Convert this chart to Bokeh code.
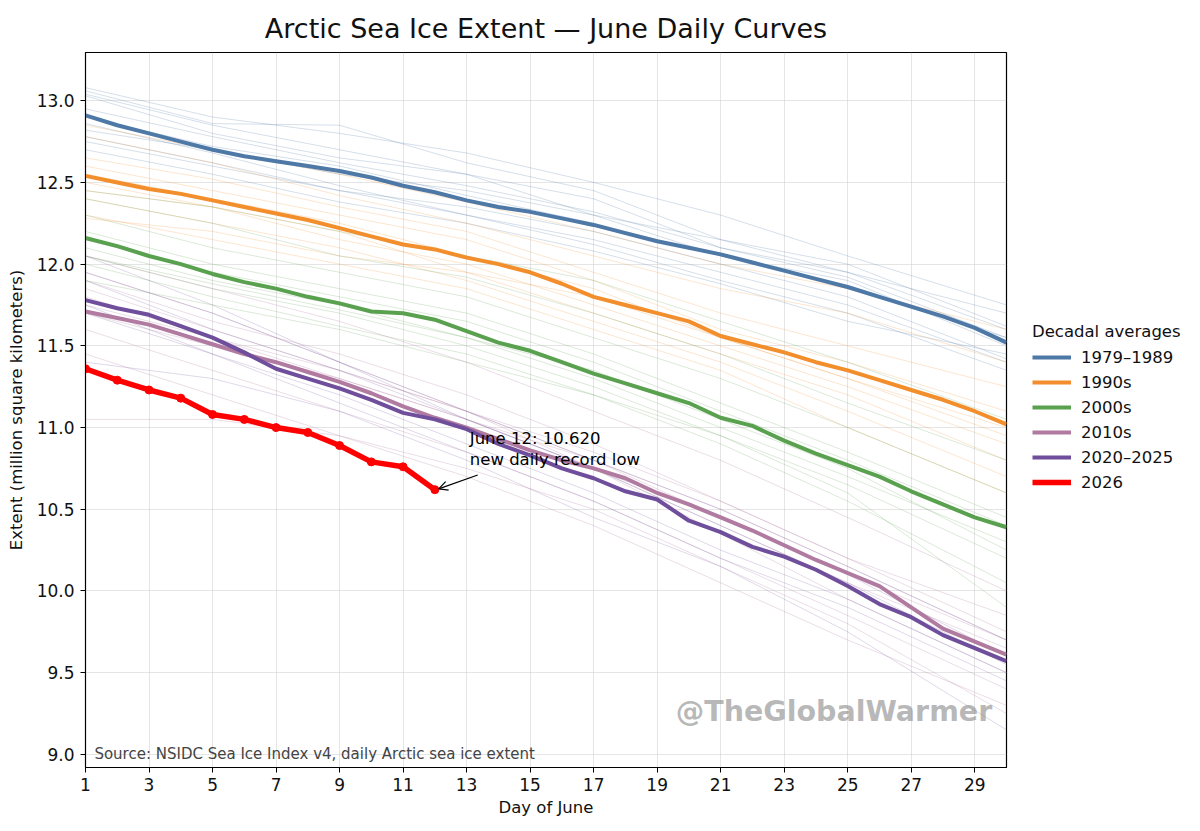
from bokeh.plotting import figure
from bokeh.layouts import row
from bokeh.models import (Range1d, FixedTicker, PrintfTickFormatter, Legend, LegendItem,
                          Label, Arrow, OpenHead)
from bokeh.embed import file_html
from bokeh.resources import INLINE

FONT = "DejaVu Sans"

days = list(range(1, 31))
sample_days = [1, 5, 9, 13, 17, 21, 25, 30]

# ---- individual years (sparse readings, faint lines) ----
years_1980s = {
    1979: [13.08, 12.90, 12.80, 12.68, 12.50, 12.30, 12.05, 11.75],
    1980: [13.06, 12.86, 12.85, 12.62, 12.45, 12.15, 12.00, 11.62],
    1981: [13.04, 12.85, 12.70, 12.55, 12.40, 12.10, 11.95, 11.70],
    1982: [13.03, 12.80, 12.65, 12.55, 12.30, 12.15, 11.95, 11.60],
    1983: [12.90, 12.72, 12.60, 12.42, 12.25, 12.05, 11.90, 11.50],
    1984: [12.78, 12.62, 12.45, 12.30, 12.15, 11.95, 11.75, 11.40],
    1985: [12.82, 12.70, 12.55, 12.45, 12.30, 12.05, 11.85, 11.55],
    1986: [12.75, 12.60, 12.45, 12.35, 12.20, 12.00, 11.80, 11.42],
    1987: [12.86, 12.68, 12.48, 12.30, 12.12, 11.90, 11.70, 11.35],
    1988: [12.95, 12.78, 12.62, 12.48, 12.32, 12.10, 11.92, 11.55],
    1989: [12.70, 12.55, 12.38, 12.25, 12.08, 11.88, 11.65, 11.45],
}
years_1990s = {
    1990: [12.85, 12.70, 12.55, 12.38, 12.20, 12.00, 11.85, 11.60],
    1991: [12.78, 12.62, 12.42, 12.25, 12.05, 11.85, 11.70, 11.40],
    1992: [12.65, 12.52, 12.35, 12.20, 11.95, 11.70, 11.50, 11.25],
    1993: [12.60, 12.45, 12.30, 12.15, 11.90, 11.60, 11.40, 11.10],
    1994: [12.55, 12.40, 12.25, 12.05, 11.85, 11.55, 11.30, 11.00],
    1995: [12.50, 12.35, 12.15, 12.00, 11.75, 11.50, 11.25, 10.90],
    1996: [12.45, 12.35, 12.20, 11.95, 11.70, 11.45, 11.20, 10.80],
    1997: [12.40, 12.25, 12.10, 11.90, 11.65, 11.40, 11.10, 10.70],
    1998: [12.30, 12.15, 12.00, 11.85, 11.60, 11.35, 11.00, 10.60],
    1999: [12.28, 12.20, 12.05, 11.95, 11.80, 11.55, 11.30, 10.95],
}
years_2000s = {
    2000: [12.45, 12.35, 12.20, 12.05, 11.90, 11.65, 11.40, 11.05],
    2001: [12.40, 12.25, 12.05, 11.92, 11.70, 11.45, 11.15, 10.80],
    2002: [12.30, 12.10, 11.95, 11.80, 11.55, 11.30, 11.00, 10.60],
    2003: [12.20, 12.00, 11.85, 11.70, 11.45, 11.15, 10.85, 10.45],
    2004: [12.15, 11.95, 11.80, 11.65, 11.40, 11.10, 10.80, 10.40],
    2005: [12.10, 11.90, 11.75, 11.55, 11.30, 11.00, 10.70, 10.30],
    2006: [12.05, 11.85, 11.70, 11.50, 11.25, 10.95, 10.65, 10.20],
    2007: [12.00, 11.80, 11.62, 11.45, 11.20, 10.90, 10.55, 10.05],
    2008: [12.05, 11.88, 11.72, 11.55, 11.35, 11.05, 10.75, 10.25],
    2009: [11.90, 11.75, 11.60, 11.40, 11.20, 10.95, 10.60, 9.90],
}
years_2010s = {
    2010: [11.60, 11.35, 11.10, 10.85, 10.55, 10.20, 9.85, 9.40],
    2011: [11.85, 11.60, 11.35, 11.10, 10.80, 10.50, 10.15, 9.70],
    2012: [11.95, 11.70, 11.40, 11.10, 10.75, 10.35, 9.95, 9.50],
    2013: [12.05, 11.85, 11.65, 11.40, 11.10, 10.80, 10.45, 10.00],
    2014: [11.75, 11.55, 11.35, 11.10, 10.85, 10.55, 10.20, 9.85],
    2015: [11.70, 11.50, 11.30, 11.05, 10.80, 10.45, 10.10, 9.70],
    2016: [11.45, 11.20, 10.95, 10.70, 10.40, 10.05, 9.70, 9.30],
    2017: [11.80, 11.55, 11.30, 11.05, 10.75, 10.40, 10.05, 9.65],
    2018: [11.90, 11.65, 11.45, 11.20, 10.90, 10.55, 10.20, 9.75],
    2019: [11.05, 11.05, 10.95, 10.75, 10.50, 10.15, 9.80, 9.25],
}
years_2020s = {
    2020: [11.90, 11.60, 11.35, 11.05, 10.75, 10.45, 10.10, 9.60],
    2021: [12.05, 11.75, 11.40, 11.05, 10.75, 10.40, 10.05, 9.55],
    2022: [11.95, 11.70, 11.40, 11.10, 10.80, 10.50, 10.15, 9.70],
    2023: [11.40, 11.30, 11.10, 10.80, 10.45, 10.15, 9.75, 9.15],
    2024: [11.70, 11.45, 11.15, 10.85, 10.55, 10.20, 9.90, 9.45],
    2025: [11.75, 11.45, 11.20, 10.90, 10.60, 10.25, 9.95, 9.50],
}

# ---- decadal averages (daily) ----
avg_1979_1989 = [12.91, 12.85, 12.80, 12.75, 12.70, 12.66, 12.63, 12.60, 12.57, 12.53,
                 12.48, 12.44, 12.39, 12.35, 12.32, 12.28, 12.24, 12.19, 12.14, 12.10,
                 12.06, 12.01, 11.96, 11.91, 11.86, 11.80, 11.74, 11.68, 11.61, 11.52]
avg_1990s = [12.54, 12.50, 12.46, 12.43, 12.39, 12.35, 12.31, 12.27, 12.22, 12.17,
             12.12, 12.09, 12.04, 12.00, 11.95, 11.88, 11.80, 11.75, 11.70, 11.65,
             11.56, 11.51, 11.46, 11.40, 11.35, 11.29, 11.23, 11.17, 11.10, 11.02]
avg_2000s = [12.16, 12.11, 12.05, 12.00, 11.94, 11.89, 11.85, 11.80, 11.76, 11.71,
             11.70, 11.66, 11.59, 11.52, 11.47, 11.40, 11.33, 11.27, 11.21, 11.15,
             11.06, 11.01, 10.92, 10.84, 10.77, 10.70, 10.61, 10.53, 10.45, 10.39]
avg_2010s = [11.71, 11.67, 11.63, 11.57, 11.51, 11.45, 11.40, 11.34, 11.28, 11.21,
             11.13, 11.06, 11.00, 10.93, 10.86, 10.80, 10.75, 10.69, 10.60, 10.53,
             10.45, 10.37, 10.28, 10.19, 10.11, 10.03, 9.90, 9.77, 9.69, 9.61]
avg_2020_2025 = [11.78, 11.73, 11.69, 11.62, 11.55, 11.46, 11.36, 11.30, 11.24, 11.17,
                 11.09, 11.05, 10.99, 10.90, 10.83, 10.75, 10.69, 10.61, 10.56, 10.43,
                 10.36, 10.27, 10.21, 10.13, 10.03, 9.92, 9.84, 9.73, 9.65, 9.57]
days_2026 = list(range(1, 13))
ext_2026 = [11.36, 11.29, 11.23, 11.18, 11.08, 11.05, 11.00, 10.97, 10.89, 10.79, 10.76, 10.62]

decades = [
    ("1979\u20131989", avg_1979_1989, years_1980s, "#4e79a7", 0.24),
    ("1990s", avg_1990s, years_1990s, "#f28e2b", 0.22),
    ("2000s", avg_2000s, years_2000s, "#59a14f", 0.22),
    ("2010s", avg_2010s, years_2010s, "#b07aa1", 0.26),
    ("2020\u20132025", avg_2020_2025, years_2020s, "#6f4e9c", 0.22),
]
color_2026 = "#ff0000"

y_ticks = [9.0, 9.5, 10.0, 10.5, 11.0, 11.5, 12.0, 12.5, 13.0]
x_ticks = list(range(1, 30, 2))

FIG_H = 822

p = figure(width=1016, height=FIG_H, output_backend="svg", toolbar_location=None,
           x_range=Range1d(1, 30), y_range=Range1d(8.92, 13.295),
           min_border_left=85, min_border_top=52, min_border_bottom=55, min_border_right=10)
p.background_fill_color = "white"
p.outline_line_color = "black"
p.outline_line_width = 1.2

p.title.text = "Arctic Sea Ice Extent \u2014 June Daily Curves"
p.title.align = "center"
p.title.text_font = FONT
p.title.text_font_size = "27px"
p.title.text_font_style = "normal"
p.title.text_color = "#111111"
p.title.standoff = 18

for ax in (p.xaxis[0], p.yaxis[0]):
    ax.axis_label_text_font = FONT
    ax.axis_label_text_font_size = "16.5px"
    ax.axis_label_text_font_style = "normal"
    ax.axis_label_text_color = "#111111"
    ax.major_label_text_font = FONT
    ax.major_label_text_font_size = "17px"
    ax.major_label_text_color = "#111111"
    ax.minor_tick_line_color = None
    ax.major_tick_out = 5
    ax.major_tick_in = 0
    ax.axis_line_color = "black"
    ax.major_tick_line_color = "black"

p.xaxis.axis_label = "Day of June"
p.yaxis.axis_label = "Extent (million square kilometers)"
p.xaxis.ticker = FixedTicker(ticks=x_ticks)
p.yaxis.ticker = FixedTicker(ticks=y_ticks)
p.yaxis.formatter = PrintfTickFormatter(format="%.1f")
p.xaxis.major_label_standoff = 5
p.yaxis.major_label_standoff = 6
p.xaxis.axis_label_standoff = 4
p.yaxis.axis_label_standoff = 8

p.xgrid.ticker = FixedTicker(ticks=x_ticks)
p.ygrid.ticker = FixedTicker(ticks=y_ticks)
p.grid.grid_line_color = "#cccccc"
p.grid.grid_line_alpha = 0.5
p.grid.grid_line_width = 1

# faint individual years
for label, avg, yrs, color, a in decades:
    for yr, vals in yrs.items():
        p.line(sample_days, vals, line_color=color, line_alpha=a, line_width=1)

for label, avg, yrs, color, a in decades:
    p.line(days, avg, line_color=color, line_width=4)

p.line(days_2026, ext_2026, line_color=color_2026, line_width=5.5)
p.scatter(days_2026, ext_2026, size=8, fill_color=color_2026, line_color=color_2026)

# annotation for the record low
last_day = days_2026[-1]
last_val = ext_2026[-1]
p.add_layout(Label(x=last_day + 1.1, y=last_val + 0.37,
                   text="June 12: %.3f\nnew daily record low" % last_val,
                   text_font=FONT, text_font_size="16.5px", text_color="black",
                   text_baseline="top", text_align="left", text_line_height=1.1))
p.add_layout(Arrow(x_start=last_day + 1.35, y_start=last_val + 0.09,
                   x_end=last_day + 0.12, y_end=last_val + 0.005,
                   line_color="black", line_width=1.2,
                   end=OpenHead(size=9, line_color="black", line_width=1.2)))

# watermark
p.add_layout(Label(x=29.55, y=9.26, text="@TheGlobalWarmer", text_font=FONT,
                   text_font_size="28.5px", text_font_style="bold", text_color="#888888",
                   text_alpha=0.6, text_align="right", text_baseline="middle"))
# source note
p.add_layout(Label(x=1.28, y=9.0, text="Source: NSIDC Sea Ice Index v4, daily Arctic sea ice extent",
                   text_font=FONT, text_font_size="15px", text_color="#444444",
                   text_align="left", text_baseline="middle"))

# ---- legend panel (separate figure next to the chart) ----
# the same series are drawn here outside this panel's visible range, so only the legend shows
lg = figure(width=170, height=FIG_H, output_backend="svg", toolbar_location=None,
            x_range=Range1d(-10, -9), y_range=Range1d(-10, -9),
            x_axis_type=None, y_axis_type=None,
            min_border_left=0, min_border_right=0, min_border_top=52, min_border_bottom=55)
lg.outline_line_color = None
lg.grid.visible = False
items = []
for label, avg, yrs, color, a in decades:
    r = lg.line(days, avg, line_color=color, line_width=4)
    items.append(LegendItem(label=label, renderers=[r]))
r26 = lg.line(days_2026, ext_2026, line_color=color_2026, line_width=5.5)
items.append(LegendItem(label="2026", renderers=[r26]))

legend = Legend(items=items, title="Decadal averages", location=(10, 269),
                border_line_alpha=0, background_fill_alpha=0,
                label_text_font=FONT, label_text_font_size="16.5px", label_text_color="#111111",
                title_text_font=FONT, title_text_font_size="16.5px", title_text_color="#111111",
                title_text_font_style="normal", glyph_width=39, glyph_height=20,
                label_height=20, spacing=5, title_standoff=6,
                label_standoff=10, margin=0, padding=6)
lg.add_layout(legend)

layout = row(p, lg)
open("out.html", "w").write(file_html(layout, INLINE))
